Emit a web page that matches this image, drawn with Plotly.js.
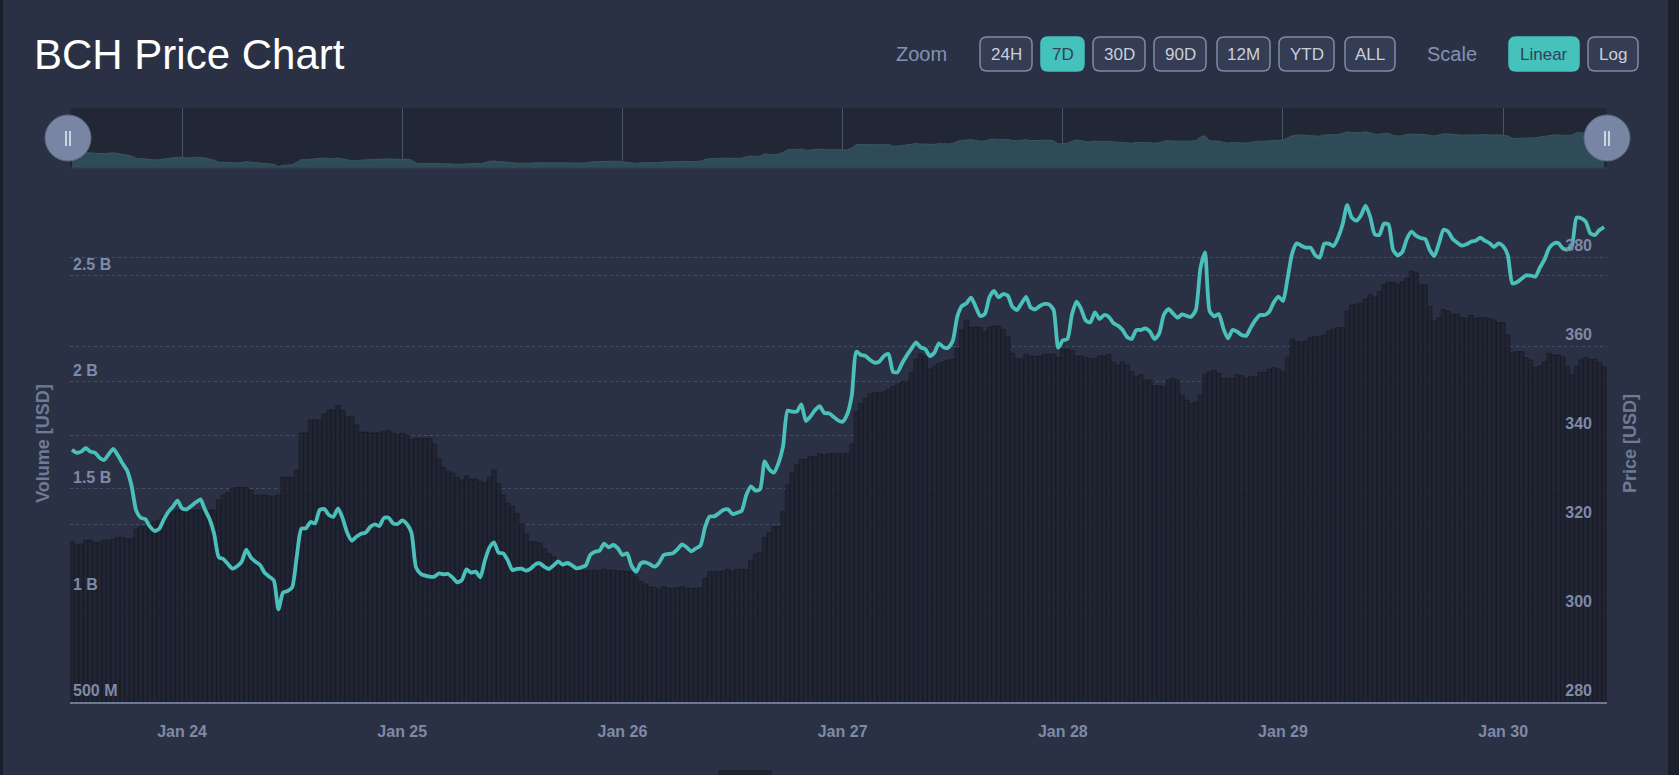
<!DOCTYPE html>
<html>
<head>
<meta charset="utf-8">
<script src="https://cdn.plot.ly/plotly-3.0.1.min.js"></script>
<style>
  html, body { margin: 0; padding: 0; background: #2b3144; }
  #chart { width: 1679px; height: 775px; }
</style>
</head>
<body>
<div id="chart"></div>
<script>
// ---------------- DATA ----------------
// Half-hourly samples starting Jan 23 2020, 12:00
const seriesStart = '2020-01-23T12:00:00Z';
const stepMinutes = 30;

// BCH price, USD
const priceUsd = [
  336.70, 336.03, 336.26, 337.08, 336.26, 336.03, 334.91, 334.38, 335.66, 336.85,
  335.43, 333.63, 332.06, 328.54, 323.00, 321.42, 321.05, 319.40, 318.43, 318.88,
  320.97, 322.70, 323.90, 325.24, 323.52, 323.30, 324.05, 324.87, 325.54, 323.22,
  321.12, 317.75, 312.51, 312.14, 311.01, 309.96, 310.49, 311.54, 314.23, 312.44,
  311.54, 310.79, 309.06, 308.17, 307.34, 300.82, 304.57, 304.94, 305.77, 312.66,
  318.95, 319.03, 320.45, 320.15, 323.15, 323.37, 322.02, 321.65, 323.52, 321.27,
  318.05, 316.26, 317.15, 317.83, 318.05, 319.33, 319.93, 319.55, 321.35, 321.42,
  320.15, 320.00, 320.82, 320.00, 318.05, 310.26, 308.84, 308.39, 308.17, 308.17,
  308.91, 308.69, 308.76, 307.94, 306.89, 307.42, 309.81, 309.06, 309.29, 308.02,
  311.76, 314.68, 315.88, 313.56, 313.41, 311.84, 309.66, 309.89, 309.96, 309.51,
  309.96, 310.94, 311.16, 310.34, 309.89, 310.71, 311.61, 310.86, 311.24, 310.71,
  310.04, 310.26, 310.71, 313.11, 313.78, 314.01, 315.58, 314.76, 315.28, 314.53,
  313.03, 313.41, 310.56, 309.29, 311.16, 311.39, 310.94, 310.41, 311.31, 313.03,
  313.26, 313.41, 314.31, 315.43, 314.76, 313.86, 314.50, 315.13, 319.25, 321.65,
  321.72, 322.39, 323.14, 323.29, 322.24, 322.54, 322.99, 326.51, 328.46, 327.49,
  327.79, 334.08, 332.28, 331.53, 333.63, 337.38, 345.47, 345.24, 345.24, 346.89,
  343.14, 344.19, 345.61, 346.51, 344.94, 344.87, 344.12, 343.29, 342.99, 344.64,
  348.91, 358.72, 357.97, 357.75, 356.85, 356.25, 356.48, 357.75, 358.20, 354.15,
  354.15, 356.18, 357.90, 359.40, 360.82, 359.70, 359.32, 357.75, 358.50, 360.60,
  359.70, 359.62, 361.12, 366.59, 368.99, 369.59, 370.86, 368.84, 366.74, 367.19,
  370.93, 372.36, 370.93, 371.68, 371.30, 368.84, 368.09, 369.59, 371.01, 368.61,
  368.24, 368.99, 369.44, 369.36, 368.09, 359.62, 361.27, 361.57, 367.11, 369.96,
  368.31, 365.69, 365.32, 367.56, 366.07, 366.96, 366.59, 365.17, 364.57, 363.67,
  362.02, 361.57, 363.59, 363.59, 363.97, 363.22, 361.57, 362.77, 366.96, 368.31,
  367.34, 366.36, 367.11, 366.74, 366.59, 368.09, 377.45, 381.05, 367.86, 366.66,
  367.19, 363.97, 361.72, 363.59, 363.22, 362.47, 362.32, 364.19, 365.84, 366.96,
  366.96, 367.71, 369.81, 371.08, 370.11, 375.20, 380.82, 383.07, 382.54, 382.09,
  382.09, 380.45, 379.85, 382.95, 383.00, 382.47, 384.34, 387.34, 391.69, 388.84,
  388.17, 389.36, 391.54, 389.06, 385.09, 384.94, 387.49, 387.34, 381.57, 380.37,
  381.12, 384.05, 385.69, 384.79, 384.27, 384.05, 381.57, 380.23, 383.07, 386.14,
  385.69, 384.05, 383.22, 382.55, 382.85, 383.45, 383.67, 384.34, 383.67, 383.15,
  382.25, 383.07, 382.40, 380.45, 374.08, 374.31, 375.13, 375.88, 375.81, 375.58,
  377.60, 379.40, 381.95, 383.00, 383.15, 381.95, 381.72, 382.70, 388.84, 388.69,
  387.94, 385.32, 384.94, 386.07, 386.74
];

// Trading volume, billions of USD
const volumeBn = [
  1.251, 1.240, 1.240, 1.259, 1.259, 1.248, 1.248, 1.259, 1.259, 1.262,
  1.272, 1.272, 1.265, 1.265, 1.309, 1.322, 1.322, 1.337, 1.345, 1.353,
  1.369, 1.387, 1.392, 1.400, 1.400, 1.400, 1.400, 1.400, 1.400, 1.400,
  1.400, 1.400, 1.447, 1.470, 1.481, 1.503, 1.506, 1.506, 1.506, 1.493,
  1.470, 1.470, 1.470, 1.465, 1.465, 1.470, 1.554, 1.554, 1.554, 1.587,
  1.761, 1.761, 1.822, 1.822, 1.822, 1.850, 1.868, 1.868, 1.889, 1.868,
  1.836, 1.836, 1.798, 1.765, 1.765, 1.761, 1.761, 1.761, 1.767, 1.772,
  1.759, 1.754, 1.759, 1.751, 1.731, 1.736, 1.736, 1.736, 1.736, 1.709,
  1.639, 1.600, 1.579, 1.572, 1.553, 1.540, 1.559, 1.545, 1.545, 1.533,
  1.528, 1.553, 1.587, 1.525, 1.470, 1.431, 1.418, 1.384, 1.334, 1.287,
  1.251, 1.251, 1.244, 1.220, 1.197, 1.181, 1.165, 1.142, 1.134, 1.126,
  1.122, 1.119, 1.115, 1.115, 1.119, 1.115, 1.123, 1.119, 1.119, 1.115,
  1.115, 1.111, 1.111, 1.087, 1.064, 1.053, 1.040, 1.037, 1.028, 1.040,
  1.033, 1.033, 1.036, 1.040, 1.033, 1.033, 1.033, 1.037, 1.080, 1.111,
  1.111, 1.111, 1.115, 1.122, 1.115, 1.122, 1.122, 1.122, 1.165, 1.194,
  1.200, 1.272, 1.294, 1.322, 1.322, 1.392, 1.517, 1.575, 1.611, 1.637,
  1.637, 1.650, 1.650, 1.665, 1.658, 1.665, 1.665, 1.665, 1.665, 1.665,
  1.709, 1.861, 1.900, 1.923, 1.946, 1.950, 1.950, 1.954, 1.965, 1.978,
  1.990, 2.001, 2.001, 2.043, 2.106, 2.131, 2.121, 2.059, 2.075, 2.087,
  2.095, 2.103, 2.106, 2.157, 2.243, 2.290, 2.256, 2.256, 2.256, 2.235,
  2.256, 2.262, 2.262, 2.246, 2.212, 2.134, 2.110, 2.107, 2.129, 2.121,
  2.121, 2.121, 2.129, 2.129, 2.129, 2.114, 2.154, 2.154, 2.145, 2.121,
  2.121, 2.115, 2.110, 2.110, 2.121, 2.121, 2.129, 2.092, 2.079, 2.095,
  2.079, 2.048, 2.025, 2.035, 2.009, 2.009, 1.982, 1.982, 1.978, 2.009,
  2.017, 2.009, 1.939, 1.915, 1.900, 1.907, 1.939, 2.035, 2.048, 2.053,
  2.040, 2.017, 2.017, 2.017, 2.035, 2.029, 2.017, 2.025, 2.025, 2.045,
  2.045, 2.060, 2.067, 2.060, 2.048, 2.115, 2.201, 2.189, 2.189, 2.192,
  2.207, 2.212, 2.212, 2.220, 2.240, 2.248, 2.254, 2.254, 2.332, 2.360,
  2.364, 2.368, 2.388, 2.410, 2.396, 2.423, 2.457, 2.467, 2.467, 2.457,
  2.470, 2.485, 2.520, 2.513, 2.457, 2.454, 2.353, 2.285, 2.301, 2.340,
  2.332, 2.317, 2.317, 2.301, 2.298, 2.313, 2.298, 2.301, 2.301, 2.298,
  2.290, 2.278, 2.278, 2.220, 2.134, 2.142, 2.142, 2.114, 2.103, 2.067,
  2.075, 2.095, 2.134, 2.126, 2.126, 2.118, 2.071, 2.032, 2.075, 2.103,
  2.114, 2.107, 2.107, 2.092, 2.071
];

// Axis ticks
const volumeTickVals = [0.5, 1, 1.5, 2, 2.5];
const volumeTickText = ['500 M', '1 B', '1.5 B', '2 B', '2.5 B'];
const priceTickVals = [280, 300, 320, 340, 360, 380];

// Toolbar labels
const zoomLabels = ['24H', '7D', '30D', '90D', '12M', 'YTD', 'ALL'];
const zoomActive = '7D';
const scaleLabels = ['Linear', 'Log'];
const scaleActive = 'Linear';

// ---------------- LAYOUT CONSTANTS ----------------
const W = 1679, H = 775;
const ML = 70, MR = 72, MT = 108, MB = 73;
const PW = W - ML - MR, PH = H - MT - MB;
const FONT = '"Liberation Sans", Arial, Helvetica, sans-serif';
const C = {
  bg: '#2b3144', outer: '#1b1f2a', navBg: '#222735', navFill: '#2f4b58', navLine: '#37575f',
  navGrid: '#4a5468', grid: '#454e62', bar: 'rgba(30,34,48,0.8)', barLine: 'rgba(21,24,34,0.9)',
  price: '#4bc0bb', tick: '#7e8aa6', axisTitle: '#6f7b96', axisLine: '#6c7894',
  btnBorder: '#7f8aa5', btnFill: '#343d54', btnText: '#c9cfdb', btnActive: '#46c2bd',
  btnActiveText: '#334155', toolLabel: '#8391b3', handle: '#7885a3'
};
// button boxes in pixels [x0, x1]
const zoomBoxes = [[980,1032],[1041,1084],[1093,1145],[1154,1206],[1217,1270],[1279,1334],[1345,1395]];
const scaleBoxes = [[1509,1579],[1588,1638]];
const BTN_Y0 = 37, BTN_Y1 = 71, BTN_R = 7;

const fx = px => (px - ML) / PW;
const fy = py => (H - MB - py) / PH;

// ---------------- TIME AXIS ----------------
const pad = n => String(n).padStart(2, '0');
const t0 = Date.parse(seriesStart);
const fmt = ms => { const d = new Date(ms);
  return d.getUTCFullYear() + '-' + pad(d.getUTCMonth() + 1) + '-' + pad(d.getUTCDate()) + ' ' +
         pad(d.getUTCHours()) + ':' + pad(d.getUTCMinutes()); };
const times = priceUsd.map((_, i) => fmt(t0 + i * stepMinutes * 60000));
const xRange = ['2020-01-23 11:47', '2020-01-30 11:19'];

// ---------------- TRACES ----------------
const traces = [
  { type: 'bar', x: times, y: volumeBn, xaxis: 'x', yaxis: 'y', name: 'Volume',
    marker: { color: C.bar, line: { color: C.barLine, width: 0.6 } }, hoverinfo: 'skip' },
  { type: 'scatter', mode: 'lines', x: times, y: priceUsd, xaxis: 'x', yaxis: 'y2', name: 'Price',
    line: { color: C.price, width: 3.8, shape: 'spline', smoothing: 0.6 }, hoverinfo: 'skip' },
  { type: 'scatter', mode: 'lines', x: times, y: priceUsd, xaxis: 'x2', yaxis: 'y3', name: 'Navigator',
    fill: 'tozeroy', fillcolor: C.navFill, line: { color: C.navLine, width: 1 }, hoverinfo: 'skip' }
];

// ---------------- SHAPES & ANNOTATIONS ----------------
function roundRect(x0, y0, x1, y1, r) {
  const rx = r / PW, ry = r / PH;
  const X0 = fx(x0), X1 = fx(x1), B = fy(y1), T = fy(y0);
  return `M${X0+rx},${B} L${X1-rx},${B} Q${X1},${B} ${X1},${B+ry} L${X1},${T-ry} Q${X1},${T} ${X1-rx},${T} ` +
         `L${X0+rx},${T} Q${X0},${T} ${X0},${T-ry} L${X0},${B+ry} Q${X0},${B} ${X0+rx},${B} Z`;
}
const shapes = [];
const annotations = [];

// outer page strips
shapes.push({ type: 'rect', xref: 'paper', yref: 'paper', x0: fx(1668), x1: fx(1690), y0: fy(790), y1: fy(-10),
  fillcolor: C.outer, line: { width: 0 }, layer: 'below' });
shapes.push({ type: 'rect', xref: 'paper', yref: 'paper', x0: fx(-10), x1: fx(3), y0: fy(790), y1: fy(-10),
  fillcolor: C.outer, line: { width: 0 }, layer: 'below' });
// bottom scroll thumb
shapes.push({ type: 'path', xref: 'paper', yref: 'paper', path: roundRect(718, 770, 772, 779, 3),
  fillcolor: '#1f2330', line: { width: 0 } });

// navigator background & bottom line
shapes.push({ type: 'rect', xref: 'x2 domain', yref: 'y3 domain', x0: 0, x1: 1, y0: 0, y1: 1,
  fillcolor: C.navBg, line: { width: 0 }, layer: 'below' });
shapes.push({ type: 'line', xref: 'paper', yref: 'paper', x0: 0, x1: 1, y0: fy(168), y1: fy(168),
  line: { color: '#363e50', width: 1 } });

// navigator handles
[68, 1607].forEach(cx => {
  shapes.push({ type: 'circle', xref: 'paper', yref: 'paper', x0: fx(cx - 23), x1: fx(cx + 23),
    y0: fy(161), y1: fy(115), fillcolor: C.handle, line: { color: '#5e6a86', width: 1 } });
  [-2, 2].forEach(d => shapes.push({ type: 'line', xref: 'paper', yref: 'paper',
    x0: fx(cx + d), x1: fx(cx + d), y0: fy(146), y1: fy(131), line: { color: '#ffffff', width: 1.3 } }));
});

// toolbar buttons
function addButtons(labels, boxes, active) {
  labels.forEach((lab, i) => {
    const [x0, x1] = boxes[i];
    const on = lab === active;
    shapes.push({ type: 'path', xref: 'paper', yref: 'paper', path: roundRect(x0, BTN_Y0, x1, BTN_Y1, BTN_R),
      fillcolor: on ? C.btnActive : C.btnFill, line: { color: on ? C.btnActive : C.btnBorder, width: 1.5 } });
    annotations.push({ xref: 'paper', yref: 'paper', x: fx((x0 + x1) / 2), y: fy((BTN_Y0 + BTN_Y1) / 2),
      text: lab, showarrow: false, xanchor: 'center', yanchor: 'middle',
      font: { family: FONT, size: 17, color: on ? C.btnActiveText : C.btnText } });
  });
}
addButtons(zoomLabels, zoomBoxes, zoomActive);
addButtons(scaleLabels, scaleBoxes, scaleActive);
annotations.push({ xref: 'paper', yref: 'paper', x: fx(921.5), y: fy(54), text: 'Zoom', showarrow: false,
  xanchor: 'center', yanchor: 'middle', font: { family: FONT, size: 20, color: C.toolLabel } });
annotations.push({ xref: 'paper', yref: 'paper', x: fx(1452), y: fy(54), text: 'Scale', showarrow: false,
  xanchor: 'center', yanchor: 'middle', font: { family: FONT, size: 20, color: C.toolLabel } });

// ---------------- LAYOUT ----------------
const tickFont = { family: FONT, size: 16, color: C.tick, weight: 'bold' };
const titleFont = { family: FONT, size: 18, color: C.axisTitle, weight: 'bold' };
const layout = {
  width: W, height: H,
  margin: { l: ML, r: MR, t: MT, b: MB, pad: 0 },
  paper_bgcolor: C.bg, plot_bgcolor: C.bg,
  showlegend: false, hovermode: false, bargap: 0,
  title: { text: 'BCH Price Chart', xref: 'container', yref: 'container', x: 34 / W, y: 1 - 54 / H,
    xanchor: 'left', yanchor: 'middle', font: { family: FONT, size: 42, color: '#ffffff' } },
  xaxis: {
    type: 'date', range: xRange, domain: [0, 1], anchor: 'y',
    tick0: '2020-01-24', dtick: 86400000, tickformat: '%b %-d',
    showgrid: false, zeroline: false, showline: true, linecolor: C.axisLine, linewidth: 2,
    ticks: '', ticklabelstandoff: 14, tickfont: tickFont, fixedrange: true
  },
  yaxis: {
    domain: [0, fy(185)], range: [0.5, 2.9227], tickvals: volumeTickVals, ticktext: volumeTickText,
    ticklabelposition: 'inside top', tickfont: tickFont, showline: false, zeroline: false,
    showgrid: true, gridcolor: C.grid, griddash: 'dot', gridwidth: 1, fixedrange: true,
    title: { text: 'Volume [USD]', standoff: 18, font: titleFont },
    automargin: true
  },
  yaxis2: {
    overlaying: 'y', side: 'right', anchor: 'x', range: [280, 396.18], tickvals: priceTickVals,
    ticklabelposition: 'inside top', ticklabelstandoff: 12, tickfont: tickFont,
    showline: false, zeroline: false,
    showgrid: true, gridcolor: C.grid, griddash: 'dot', gridwidth: 1, fixedrange: true,
    title: { text: 'Price [USD]', standoff: 32, font: titleFont },
    automargin: true
  },
  xaxis2: {
    type: 'date', range: xRange, domain: [0, 1], anchor: 'y3',
    tick0: '2020-01-24', dtick: 86400000, showticklabels: false, ticks: '',
    showgrid: true, gridcolor: C.navGrid, gridwidth: 1, zeroline: false, showline: false, fixedrange: true
  },
  yaxis3: {
    domain: [fy(168), fy(108)], range: [297.5, 453], showticklabels: false, ticks: '',
    showgrid: false, zeroline: false, showline: false, fixedrange: true
  },
  shapes: shapes,
  annotations: annotations
};

Plotly.newPlot('chart', traces, layout, { displayModeBar: false, staticPlot: true, responsive: false });
</script>
</body>
</html>
